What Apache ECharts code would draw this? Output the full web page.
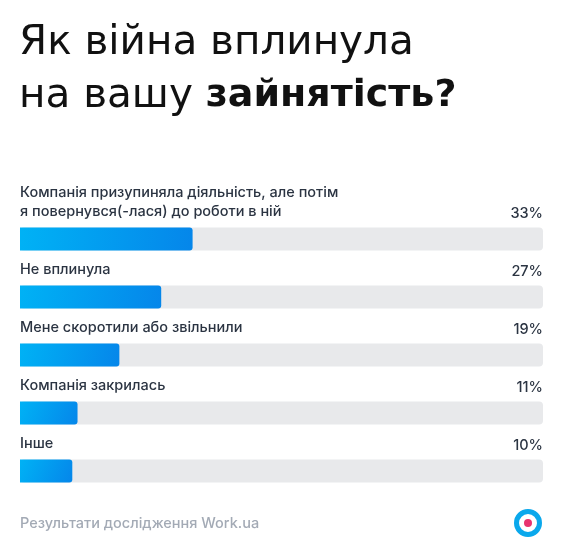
<!DOCTYPE html>
<html><head><meta charset="utf-8">
<script src="https://cdn.jsdelivr.net/npm/echarts@6/dist/echarts.min.js"></script>
<style>html,body{margin:0;padding:0;background:#fff}#c{width:565px;height:548px}</style>
</head><body><div id="c"></div>
<script>
const categories = [
  "Компанія призупиняла діяльність, але потім\nя повернувся(-лася) до роботи в ній",
  "Не вплинула",
  "Мене скоротили або звільнили",
  "Компанія закрилась",
  "Інше"
];
const values = [33, 27, 19, 11, 10];
const trackValues = [100, 100, 100, 100, 100];
const titleLine1 = "Як війна вплинула";
const titleLine2a = "на вашу ";
const titleLine2b = "зайнятість?";
const footerText = "Результати дослідження Work.ua";

const TFONT = "DejaVu Sans";
const FONT = "Inter";
const chart = echarts.init(document.getElementById('c'), null, {renderer: 'canvas'});
chart.setOption({
  backgroundColor: '#ffffff',
  animation: false,
  title: {
    text: titleLine1 + "\n" + titleLine2a + "{b|" + titleLine2b + "}",
    left: 19, top: 17, padding: 0,
    textStyle: {
      fontFamily: TFONT, fontSize: 40.5, fontWeight: 'normal', color: '#111111', lineHeight: 53,
      rich: { b: { fontFamily: TFONT, fontSize: 38, fontWeight: 'bold', color: '#111111', lineHeight: 53 } }
    }
  },
  grid: { left: 20, right: 22, top: 210, bottom: 48, containLabel: false },
  xAxis: { type: 'value', min: 0, max: 100, show: false },
  yAxis: { type: 'category', data: categories, inverse: true, show: false },
  series: [
    {
      type: 'bar', data: trackValues, barWidth: 23, barGap: '-100%', silent: true, z: 1,
      itemStyle: { color: '#e8e9eb', borderRadius: 4 },
      label: {
        show: true, position: ['100%', 0], align: 'right', verticalAlign: 'bottom', offset: [0, -6],
        fontFamily: FONT, fontSize: 14.5, fontWeight: 500, color: '#2b3442',
        formatter: p => values[p.dataIndex] + '%'
      }
    },
    {
      type: 'bar', data: values, barWidth: 23, barGap: '-100%', z: 2,
      itemStyle: {
        borderRadius: [0, 3, 3, 0],
        color: new echarts.graphic.LinearGradient(0, 0, 1, 1, [
          { offset: 0, color: '#00b2f5' }, { offset: 1, color: '#0586ea' }
        ])
      },
      label: {
        show: true, position: [0, 0], align: 'left', verticalAlign: 'bottom', offset: [0, -6],
        fontFamily: FONT, fontSize: 14.5, fontWeight: 500, color: '#2b3442', lineHeight: 19,
        formatter: p => categories[p.dataIndex]
      }
    }
  ],
  graphic: [
    { type: 'text', left: 20, top: 516, style: { text: footerText, fontFamily: FONT, fontSize: 14.5, fontWeight: 500, fill: '#a3aab5' } },
    { type: 'circle', shape: { cx: 528, cy: 523, r: 11.5 }, style: { fill: '#ffffff', stroke: '#0aa8ec', lineWidth: 5 } },
    { type: 'circle', shape: { cx: 528, cy: 523, r: 4 }, style: { fill: '#e8336f' } }
  ]
});
</script></body></html>
